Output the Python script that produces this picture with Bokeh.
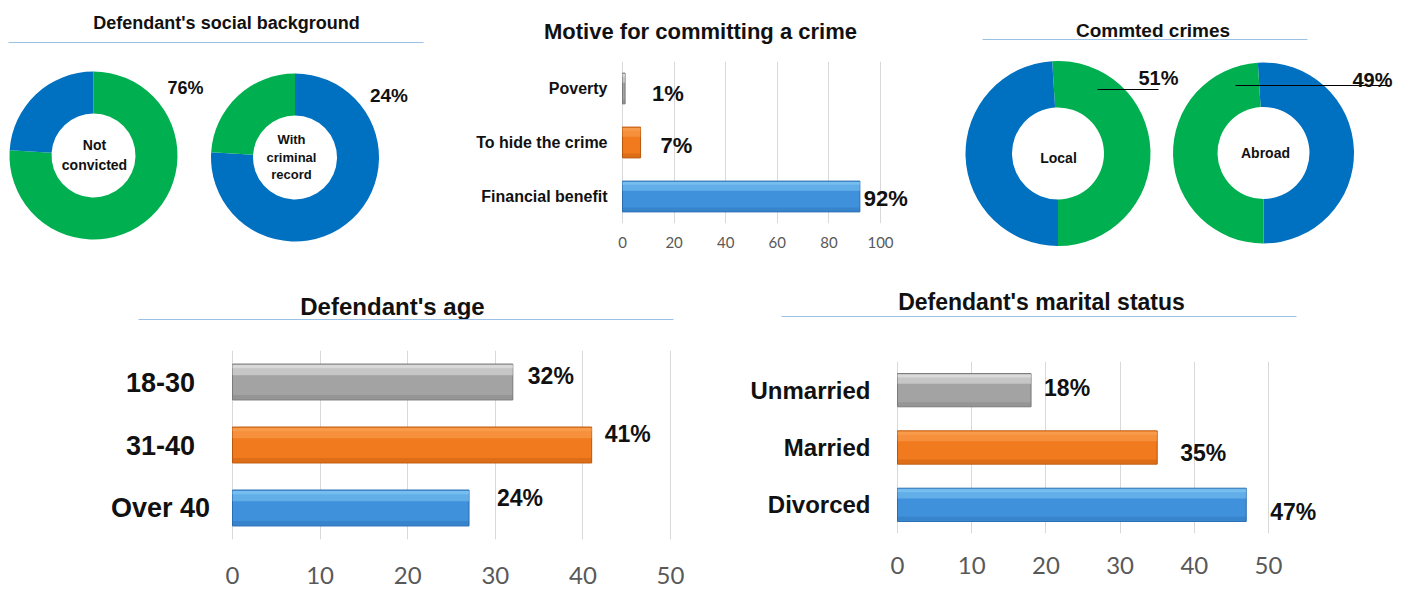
import math
from bokeh.plotting import figure
from bokeh.layouts import row, column
from bokeh.models import Range1d, FactorRange, FixedTicker, ColumnDataSource
from bokeh.transform import dodge
from bokeh.core.properties import value
from bokeh.embed import file_html
from bokeh.resources import INLINE

# ---------------- data ----------------
social_title = "Defendant's social background"
social_inner = ["Not\nconvicted", "With\ncriminal\nrecord"]
social_shares = [[76, 24], [76, 24]]
social_pct = ["76%", "24%"]

crimes_title = "Commted crimes"
crimes_inner = ["Local", "Abroad"]
crimes_shares = [[51, 49], [51, 49]]
crimes_pct = ["51%", "49%"]

motive_title = "Motive for committing a crime"
motive_cats = ["Poverty", "To hide the crime", "Financial benefit"]
motive_vals = [1, 7, 92]
motive_labels = ["1%", "7%", "92%"]
motive_ticks = [0, 20, 40, 60, 80, 100]

age_title = "Defendant's age"
age_cats = ["18-30", "31-40", "Over 40"]
age_vals = [32, 41, 27]
age_labels = ["32%", "41%", "24%"]
age_ticks = [0, 10, 20, 30, 40, 50]

marital_title = "Defendant's marital status"
marital_cats = ["Unmarried", "Married", "Divorced"]
marital_vals = [18, 35, 47]
marital_labels = ["18%", "35%", "47%"]
marital_ticks = [0, 10, 20, 30, 40, 50]

# ---------------- styles ----------------
GREEN = "#00B050"
DBLUE = "#0070C0"
social_colors = [[GREEN, DBLUE], [DBLUE, GREEN]]
crimes_colors = [[GREEN, DBLUE], [DBLUE, GREEN]]
BAR_FILL = ["#A3A3A3", "#F27A1E", "#3F91DC"]
BAR_HI = ["#EAEAEA", "#F9A55A", "#86CBF5"]
BAR_LO = ["#7A7A7A", "#B9560C", "#2A6CB0"]
TITLE_LINE = "#9BC2E6"
GRID = "#D9D9D9"
TICK_COLOR = "#595959"
FONT = "Liberation Sans"
TEXT = "#111111"


def canvas(w, h):
    p = figure(width=w, height=h, x_range=Range1d(0, w), y_range=Range1d(0, h),
               output_backend="svg", toolbar_location=None, min_border=0,
               x_axis_location=None, y_axis_location=None)
    p.grid.visible = False
    p.outline_line_color = None
    p.background_fill_color = "white"
    return p


def add_text(p, x, y, txt, size, align="center", line_height=1.2):
    p.text(x=[x], y=[y], text=[txt], text_font=value(FONT), text_font_style="bold",
           text_font_size=size, text_align=align, text_baseline="middle",
           text_color=TEXT, text_line_height=line_height)


def donut(p, cx, cy, r_in, r_out, shares, colors, rot=0.0):
    total = float(sum(shares))
    starts, ends = [], []
    cum = rot
    for s in shares:
        starts.append(math.pi / 2 - 2 * math.pi * cum)
        cum += s / total
        ends.append(math.pi / 2 - 2 * math.pi * cum)
    n = len(shares)
    p.annular_wedge(x=[cx] * n, y=[cy] * n, inner_radius=r_in, outer_radius=r_out,
                    start_angle=starts, end_angle=ends, direction="clock",
                    fill_color=colors, line_color=None)


# ---------------- panel A: social background ----------------
HA = 262
pa = canvas(430, HA)
add_text(pa, 226, HA - 22, social_title, "18px")
pa.line(x=[8, 423], y=[HA - 42, HA - 42], line_color=TITLE_LINE, line_width=1)
donut(pa, 93, HA - 155, 42, 84, social_shares[0], social_colors[0])
donut(pa, 294.5, HA - 157, 42, 84, social_shares[1], social_colors[1])
add_text(pa, 94, HA - 154.5, social_inner[0], "14px", line_height=1.2)
add_text(pa, 291, HA - 156.5, social_inner[1], "13px", line_height=1.15)
add_text(pa, 185, HA - 87, social_pct[0], "18px")
add_text(pa, 388.5, HA - 95, social_pct[1], "19px")

# ---------------- panel C: committed crimes ----------------
pc = canvas(476, HA)
add_text(pc, 222.5, HA - 30, crimes_title, "19px")
pc.line(x=[52, 377], y=[HA - 39, HA - 39], line_color=TITLE_LINE, line_width=1)
donut(pc, 127.5, HA - 153, 46, 92.5, crimes_shares[0], crimes_colors[0], rot=-0.01)
donut(pc, 333, HA - 152.5, 46, 90.5, crimes_shares[1], crimes_colors[1], rot=-0.01)
add_text(pc, 128, HA - 157, crimes_inner[0], "14px")
add_text(pc, 335, HA - 152, crimes_inner[1], "14px")
pc.line(x=[167, 228], y=[HA - 89, HA - 89], line_color="#000000", line_width=1)
pc.line(x=[305, 460], y=[HA - 85, HA - 85], line_color="#000000", line_width=1)
add_text(pc, 228, HA - 77, crimes_pct[0], "20px")
add_text(pc, 442, HA - 79, crimes_pct[1], "20px")


# ---------------- bar charts ----------------
def title_strip(w, h, text, tx, ty, size, line=None):
    p = canvas(w, h)
    add_text(p, tx, ty, text, size)
    if line is not None:
        x0, x1, ly = line
        p.line(x=[x0, x1], y=[ly, ly], line_color=TITLE_LINE, line_width=1)
    return p


def bar_chart(w, h, cats, vals, labels, ticks, zero_px, px_per_unit, top, bottom,
              cat_px, cat_align, cat_size, tick_size, tick_standoff, val_size,
              dx, dy, bar_h):
    factors = list(reversed(cats))
    xr = Range1d(-zero_px / px_per_unit, (w - zero_px) / px_per_unit)
    p = figure(width=w, height=h, y_range=FactorRange(factors=factors, range_padding=0),
               x_range=xr, output_backend="svg", toolbar_location=None,
               min_border_left=0, min_border_right=0,
               min_border_top=top, min_border_bottom=bottom, y_axis_location=None)
    p.outline_line_color = None
    src = ColumnDataSource(dict(cat=cats, val=vals, label=labels, fill=BAR_FILL,
                                hi=BAR_HI, lo=BAR_LO, dx=dx, dy=dy))
    p.hbar(y="cat", left=0, right="val", height=bar_h, fill_color="fill",
           line_color="lo", line_width=1, source=src)
    p.hbar(y=dodge("cat", 0.33 * bar_h, range=p.y_range), left=0, right="val",
           height=0.28 * bar_h, fill_color="hi", fill_alpha=0.5, line_color=None, source=src)
    p.hbar(y=dodge("cat", 0.43 * bar_h, range=p.y_range), left=0, right="val",
           height=0.1 * bar_h, fill_color="hi", fill_alpha=0.55, line_color=None, source=src)
    p.hbar(y=dodge("cat", -0.42 * bar_h, range=p.y_range), left=0, right="val",
           height=0.12 * bar_h, fill_color="lo", fill_alpha=0.35, line_color=None, source=src)
    # value labels
    p.text(x="val", y="cat", text="label", x_offset="dx", y_offset="dy",
           text_font=value(FONT), text_font_style="bold", text_font_size=val_size,
           text_align="left", text_baseline="middle", text_color=TEXT, source=src)
    # category labels (left of the zero line)
    cat_x = (cat_px - zero_px) / px_per_unit
    p.text(x=[cat_x] * len(cats), y=cats, text=cats,
           text_font=value(FONT), text_font_style="bold", text_font_size=cat_size,
           text_align=cat_align, text_baseline="middle", text_color=TEXT)

    p.xaxis.ticker = FixedTicker(ticks=ticks)
    p.xaxis.axis_line_color = None
    p.xaxis.major_tick_line_color = None
    p.xaxis.minor_tick_line_color = None
    p.xaxis.major_tick_out = 0
    p.xaxis.major_tick_in = 0
    p.xaxis.major_label_text_font = "Lato"
    p.xaxis.major_label_text_font_size = tick_size
    p.xaxis.major_label_text_color = TICK_COLOR
    p.xaxis.major_label_standoff = tick_standoff

    p.xgrid.grid_line_color = GRID
    p.ygrid.grid_line_color = None
    return p


# panel B: motive
pb_title = title_strip(500, 58, motive_title, 270, 27, "22px")
pb = bar_chart(500, 204, motive_cats, motive_vals, motive_labels, motive_ticks,
               192, 2.58, 3, 39, 177, "right", "16px", "15px", 13, "22px",
               [27, 20, 4], [5, 3, 2], 0.57)
col_b = column(pb_title, pb, spacing=0)

# panel D: age
pd_title = title_strip(720, 75, age_title, 392, 31, "24px", line=(138, 673, 18))
pdc = bar_chart(720, 253, age_cats, age_vals, age_labels, age_ticks,
                232, 8.76, 13, 51, 160, "center", "27px", "24px", 27, "23px",
                [15, 13, 28], [-6, -11, -10], 0.57)
col_d = column(pd_title, pdc, spacing=0)

# panel E: marital
pe_title = title_strip(686, 75, marital_title, 321, 36, "23px", line=(61, 576, 21))
pe = bar_chart(686, 253, marital_cats, marital_vals, marital_labels, marital_ticks,
               177, 7.42, 24, 57, 150, "right", "24px", "24px", 23, "23px",
               [13, 23, 24], [-2, 5, 7], 0.58)
col_e = column(pe_title, pe, spacing=0)

layout = column(row(pa, col_b, pc, spacing=0), row(col_d, col_e, spacing=0), spacing=0)

open("out.html", "w").write(file_html(layout, INLINE))
